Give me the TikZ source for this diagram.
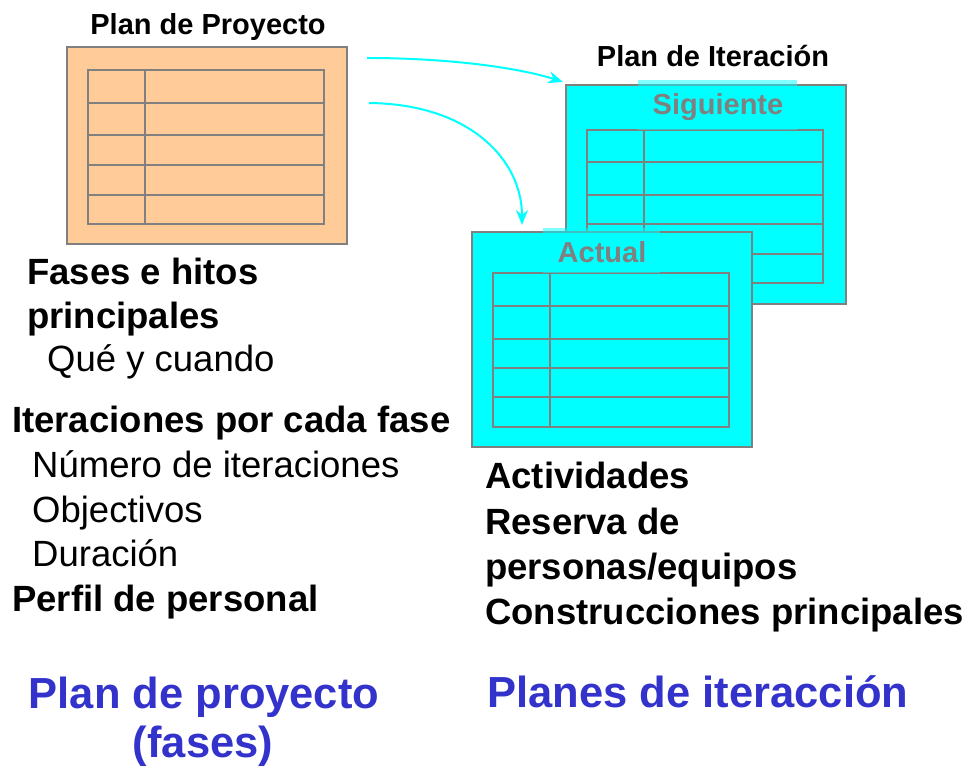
\documentclass[tikz,border=0pt]{standalone}
\usepackage{fontspec}
\setmainfont{Liberation Sans}
\usetikzlibrary{arrows.meta}
\definecolor{peach}{HTML}{FFCC99}
\definecolor{aqua}{HTML}{00FFFF}
\definecolor{frame}{HTML}{808080}
\definecolor{navyblue}{HTML}{3333CC}
\tikzset{
  card/.style={draw=frame, line width=2pt, inner sep=0pt, anchor=north west},
  grid/.style={draw=frame, line width=2pt},
  titletext/.style={font=\fontsize{29}{34}\selectfont\bfseries, inner sep=0pt, anchor=base},
  strip/.style={fill=aqua, fill opacity=0.5},
  cardlabel/.style={font=\fontsize{29}{34}\selectfont\bfseries, text=frame, inner sep=0pt, anchor=base},
  boldline/.style={font=\fontsize{36.5}{44}\selectfont\bfseries, inner sep=0pt, anchor=base west},
  plainline/.style={font=\fontsize{36.5}{44}\selectfont, inner sep=0pt, anchor=base west},
  caption/.style={font=\fontsize{43.5}{52}\selectfont\bfseries, text=navyblue, inner sep=0pt, anchor=base},
  flow/.style={draw=aqua, line width=2pt, -{Stealth[length=15pt, width=12pt, inset=5pt]}}
}
\begin{document}
\begin{tikzpicture}[x=1pt, y=-1pt]
\useasboundingbox (0,0) rectangle (970,767);

% Plan de proyecto card
\node[card, fill=peach, minimum width=280pt, minimum height=197pt] (pp) at (66,46) {};
\draw[grid] (88,70) rectangle (324,224);
\draw[grid] (145,70) -- (145,224);
\foreach \y in {103,135,165,195} \draw[grid] (88,\y) -- (324,\y);
\node[titletext] (pptitle) at (208,35) {Plan de Proyecto};

% Siguiente card
\node[card, fill=aqua, minimum width=280pt, minimum height=219pt] (sig) at (565,84) {};
\draw[grid] (587,130) rectangle (823,283);
\draw[grid] (644,130) -- (644,283);
\foreach \y in {162,195,224,254} \draw[grid] (587,\y) -- (823,\y);
\fill[strip] (638,80) rectangle (797,130);
\node[cardlabel] (siglabel) at (718,115) {Siguiente};
\node[titletext] (pititle) at (713,67) {Plan de Iteración};

% Actual card
\node[card, fill=aqua, minimum width=280pt, minimum height=215pt] (act) at (471,231) {};
\draw[grid] (493,273) rectangle (729,427);
\draw[grid] (550,273) -- (550,427);
\foreach \y in {306,339,368,397} \draw[grid] (493,\y) -- (729,\y);
\fill[strip] (543,228) rectangle (660,273);
\node[cardlabel] (actlabel) at (602,263) {Actual};

% arrows
\coordinate (a1s) at (367,58);
\coordinate (a1e) at (563,82);
\coordinate (a2s) at (369,103);
\coordinate (a2e) at (522,225);
\draw[flow] (a1s) .. controls (450,58) and (520,68) .. (a1e);
\draw[flow] (a2s) .. controls (470,104) and (522,160) .. (a2e);

% left texts
\node[boldline] (l1) at (27,285) {Fases e hitos};
\node[boldline] (l2) at (27,329) {principales};
\node[plainline] (l3) at (47,372) {Qué y cuando};
\node[boldline] (l4) at (12,433) {Iteraciones por cada fase};
\node[plainline] (l5) at (32,477) {Número de iteraciones};
\node[plainline] (l6) at (32,522) {Objectivos};
\node[plainline] (l7) at (32,566) {Duración};
\node[boldline] (l8) at (12,611) {Perfil de personal};

% right texts
\node[boldline] (r1) at (485,488) {Actividades};
\node[boldline] (r2) at (485,534) {Reserva de};
\node[boldline] (r3) at (485,579) {personas/equipos};
\node[boldline] (r4) at (485,624) {Construcciones principales};

% captions
\node[caption] (c1) at (204,708) {Plan de proyecto};
\node[caption] (c2) at (203,757) {(fases)};
\node[caption] (c3) at (698,707) {Planes de iteracción};
\end{tikzpicture}
\end{document}
